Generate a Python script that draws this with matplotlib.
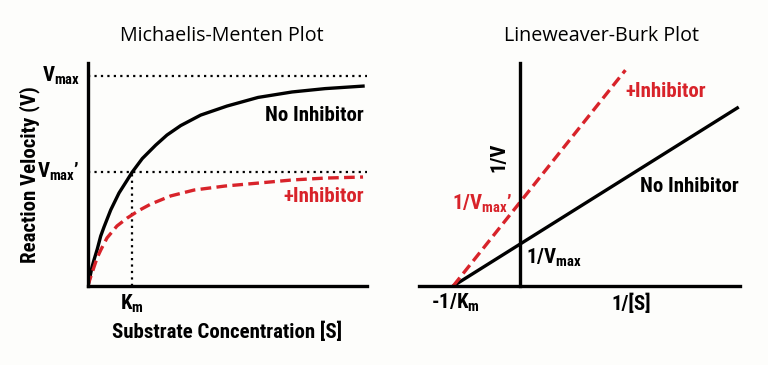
import matplotlib
matplotlib.use("Agg")
import matplotlib.pyplot as plt

# condensed bold for the labels (Roboto Condensed ships with Roboto)
BOLD_FAMILY = ["Roboto Condensed", "Liberation Sans", "DejaVu Sans"]
TITLE_FAMILY = ["Open Sans", "DejaVu Sans"]
plt.rcParams["mathtext.fontset"] = "custom"
plt.rcParams["mathtext.rm"] = "Roboto Condensed:bold"
plt.rcParams["mathtext.it"] = "Roboto Condensed:bold"
plt.rcParams["mathtext.bf"] = "Roboto Condensed:bold"

RED = "#d8232a"
BG = "#fdfdfb"

# Michaelis-Menten curves (S, V), Km = 10, Vmax = 100
mm_s_none = [0, 0.34, 0.91, 1.36, 2.11, 2.89, 3.64, 5.16, 7.05, 8.93, 10.0, 12.34,
             15.39, 17.95, 21.07, 25.61, 31.59, 38.64, 46.36, 53.86, 62.5]
mm_v_none = [0, 3.3, 9.0, 12.4, 17.6, 23.8, 28.1, 36.2, 44.3, 50.5, 54.1, 60.7,
             67.1, 71.9, 76.4, 81.4, 85.7, 89.8, 92.4, 94.0, 95.2]
mm_s_inh = [0, 0.23, 1.36, 2.05, 2.89, 4.32, 6.59, 8.93, 11.59, 14.25, 18.8,
            24.1, 31.1, 38.6, 46.4, 53.9, 62.5]
mm_v_inh = [0, 1.9, 9.0, 13.3, 17.1, 22.9, 28.6, 32.4, 36.0, 39.0, 42.9,
            45.7, 47.6, 49.0, 50.5, 51.4, 51.9]
vmax = 100
vmax_prime = 54.3
km = 10

# Lineweaver-Burk lines (1/[S], 1/V)
lb_x_none = [-1, 3.24]
lb_y_none = [0, 4.24]
lb_x_inh = [-1, 1.57]
lb_y_inh = [0, 5.14]

fig = plt.figure(figsize=(7.68, 3.65), dpi=100, facecolor=BG)

bold = dict(family=BOLD_FAMILY, weight="bold", fontsize=15)
title = dict(family=TITLE_FAMILY, fontsize=14.2)

# ---- left: Michaelis-Menten ----
ax1 = fig.add_axes([88 / 768, 79 / 365, 279 / 768, 223 / 365])
ax1.set_facecolor(BG)
ax1.set_xlim(0, 63.4)
ax1.set_ylim(0, 106.2)
for s in ["top", "right"]:
    ax1.spines[s].set_visible(False)
for s in ["left", "bottom"]:
    ax1.spines[s].set_linewidth(2.4)
ax1.set_xticks([])
ax1.set_yticks([])

dot = dict(color="black", lw=1.6, ls=(0, (1, 1.9)))
ax1.plot([0, 63.4], [vmax, vmax], **dot)
ax1.plot([0, 63.4], [vmax_prime, vmax_prime], **dot)
ax1.plot([km, km], [0, vmax_prime], **dot)
ax1.plot(mm_s_none, mm_v_none, color="black", lw=2.4, solid_joinstyle="round")
ax1.plot(mm_s_inh, mm_v_inh, color=RED, lw=2.4, ls=(0, (3.2, 1.6)))

ax1.text(-1.8, vmax, r"$V_{max}$", ha="right", va="center", **bold)
ax1.text(-1.8, vmax_prime, r"$V_{max}$’", ha="right", va="center", **bold)
ax1.text(km, -8.6, r"$K_{m}$", ha="center", va="center", **bold)
ax1.text(31.6, -22.0, "Substrate Concentration [S]", ha="center", va="center", **bold)
ax1.text(-13.2, 53.3, "Reaction Velocity (V)", rotation=90, ha="center", va="center", **bold)
ax1.text(62.7, 81.4, "No Inhibitor", ha="right", va="center", **bold)
ax1.text(62.7, 42.4, "+Inhibitor", ha="right", va="center", color=RED, **bold)
ax1.text(30.5, 119, "Michaelis-Menten Plot", ha="center", va="center", **title)

# ---- right: Lineweaver-Burk ----
ax2 = fig.add_axes([419 / 768, 79 / 365, 321 / 768, 223 / 365])
ax2.set_facecolor(BG)
ax2.set_xlim(-1.51, 3.28)
ax2.set_ylim(0, 5.31)
for s in ["top", "right"]:
    ax2.spines[s].set_visible(False)
for s in ["left", "bottom"]:
    ax2.spines[s].set_linewidth(2.4)
ax2.spines["left"].set_position(("data", 0))
ax2.set_xticks([])
ax2.set_yticks([])

ax2.plot(lb_x_none, lb_y_none, color="black", lw=2.4)
ax2.plot(lb_x_inh, lb_y_inh, color=RED, lw=2.4, ls=(0, (3.2, 1.6)))

ax2.text(1.21, 5.95, "Lineweaver-Burk Plot", ha="center", va="center", **title)
ax2.text(-0.31, 3.07, "1/V", rotation=90, ha="center", va="center", **bold)
ax2.text(-0.12, 1.95, r"1/$V_{max}$’", ha="right", va="center", color=RED, **bold)
ax2.text(0.09, 0.67, r"1/$V_{max}$", ha="left", va="center", **bold)
ax2.text(1.79, 2.36, "No Inhibitor", ha="left", va="center", **bold)
ax2.text(1.57, 4.64, "+Inhibitor", ha="left", va="center", color=RED, **bold)
ax2.text(-1.33, -0.40, r"-1/$K_{m}$", ha="left", va="center", **bold)
ax2.text(1.66, -0.43, "1/[S]", ha="center", va="center", **bold)

fig.savefig("out.png", dpi=100, facecolor=BG)
